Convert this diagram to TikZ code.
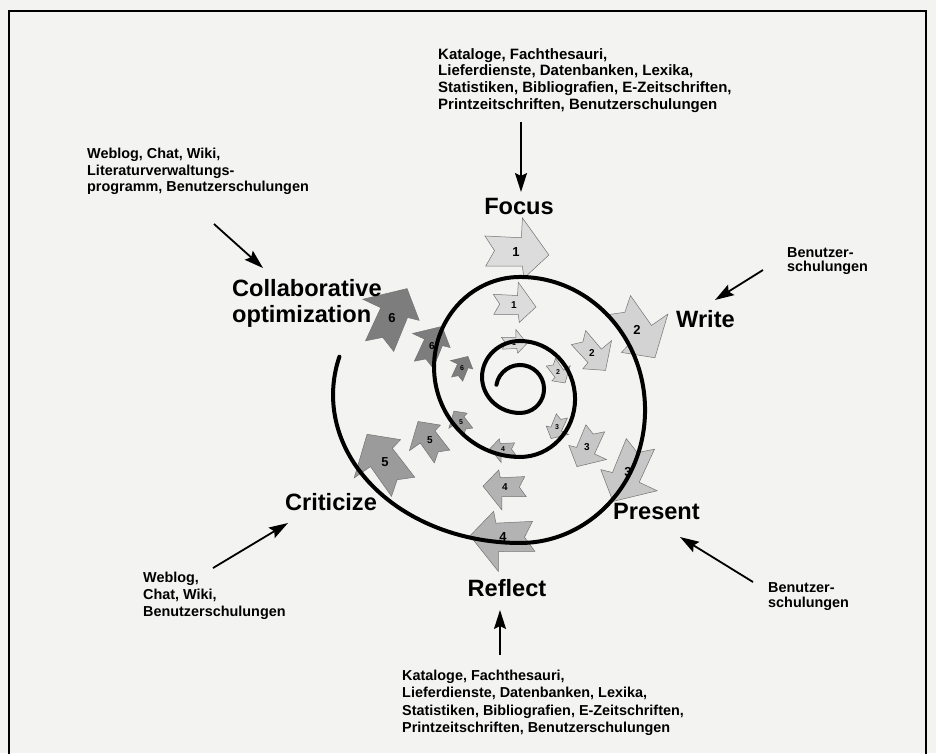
\documentclass[tikz,border=0pt]{standalone}
\usepackage{fontspec}
\setmainfont{Liberation Sans}
\usetikzlibrary{arrows.meta}
\definecolor{bgc}{HTML}{F3F3F1}
\definecolor{gA}{HTML}{DCDCDC}
\definecolor{gB}{HTML}{D3D3D3}
\definecolor{gC}{HTML}{C7C7C7}
\definecolor{gD}{HTML}{B3B3B3}
\definecolor{gE}{HTML}{9B9B9B}
\definecolor{gF}{HTML}{7D7D7D}
\tikzset{
  biglabel/.style={font=\fontsize{23.6}{26}\selectfont\bfseries, inner sep=0, align=left},
  smalltext/.style={font=\fontsize{14.4}{16.5}\selectfont\bfseries, inner sep=0, align=left, anchor=north west},
  pointer/.style={line width=1.8, -{Stealth[length=19,width=12,inset=3]}},
  spiralline/.style={line width=4, line cap=round},
  blk/.style={draw=black!55, line width=0.5},
}
\newcommand{\blkarrow}[8]{%
  \begin{scope}[shift={(#2,#3)}, rotate=-#4, scale=#5]
    \filldraw[blk, fill=#6] (-1,-0.35) -- (0.1,-0.45) -- (0.05,-1.05) -- (1,-0.05) -- (0.35,0.75) -- (0.25,0.4) -- (-0.85,0.55) -- (-0.65,0.05) -- cycle;
  \end{scope}
  \node[font=\fontsize{#8}{#8}\selectfont\bfseries, inner sep=0] (#1) at (#2,#3) {#7};
}
\begin{document}
\begin{tikzpicture}[x=1pt,y=-1pt]
\fill[bgc] (0,0) rectangle (936,753);
\useasboundingbox (0,0) rectangle (936,753);
\draw[line width=1.3] (9,760) -- (9,11) -- (926,11) -- (926,760);

% block arrows
\blkarrow{a1l}{516}{252}{8}{33}{gA}{1}{13}
\blkarrow{a1m}{514}{305}{8}{22}{gA}{1}{10}
\blkarrow{a1s}{514}{343}{5}{13}{gA}{1}{7}
\blkarrow{a2l}{637}{330}{60}{33}{gB}{2}{13}
\blkarrow{a2m}{592}{353}{55}{22}{gB}{2}{10}
\blkarrow{a2s}{558}{372}{60}{13}{gB}{2}{7}
\blkarrow{a3l}{628}{472}{120}{33}{gC}{3}{13}
\blkarrow{a3m}{587}{447}{120}{22}{gC}{3}{10}
\blkarrow{a3s}{557}{427}{120}{13}{gC}{3}{7}
\blkarrow{a4l}{503}{537}{185}{33}{gD}{4}{13}
\blkarrow{a4m}{505}{487}{185}{22}{gD}{4}{10}
\blkarrow{a4s}{503}{449}{185}{13}{gD}{4}{7}
\blkarrow{a5l}{385}{462}{240}{33}{gE}{5}{13}
\blkarrow{a5m}{430}{440}{240}{22}{gE}{5}{10}
\blkarrow{a5s}{461}{422}{240}{13}{gE}{5}{7}
\blkarrow{a6l}{392}{318}{300}{33}{gF}{6}{13}
\blkarrow{a6m}{432}{346}{300}{22}{gF}{6}{10}
\blkarrow{a6s}{462}{368}{300}{13}{gF}{6}{7}

% spiral
\draw[spiralline] (496.4,384.8)
  arc[start angle=190,end angle=450,radius=24]
  arc[start angle=90,end angle=270,x radius=38,y radius=36]
  arc[start angle=270,end angle=450,x radius=55,y radius=58]
  arc[start angle=90,end angle=270,x radius=86,y radius=90]
  arc[start angle=270,end angle=450,x radius=125,y radius=133]
  arc[start angle=90,end angle=195,x radius=187,y radius=148];

% big labels
\node[biglabel, anchor=base] (focus) at (519,214) {Focus};
\node[biglabel, anchor=base west] (write) at (676,327) {Write};
\node[biglabel, anchor=base west] (present) at (613,519) {Present};
\node[biglabel, anchor=base] (reflect) at (507,596) {Reflect};
\node[biglabel, anchor=base] (criticize) at (331,510) {Criticize};
\node[biglabel, anchor=north west] (collab) at (232,279) {Collaborative\\optimization};

% source texts
\node[smalltext, font=\fontsize{15}{16.7}\selectfont\bfseries] (topsrc) at (438,48) {Kataloge, Fachthesauri,\\Lieferdienste, Datenbanken, Lexika,\\Statistiken, Bibliografien, E-Zeitschriften,\\Printzeitschriften, Benutzerschulungen};
\node[smalltext] (tlsrc) at (87,148) {Weblog, Chat, Wiki,\\Literaturverwaltungs-\\programm, Benutzerschulungen};
\node[smalltext, font=\fontsize{14.4}{14.5}\selectfont\bfseries] (wsrc) at (787,247) {Benutzer-\\schulungen};
\node[smalltext, font=\fontsize{14.4}{15}\selectfont\bfseries] (psrc) at (768,582) {Benutzer-\\schulungen};
\node[smalltext, font=\fontsize{14.4}{16.8}\selectfont\bfseries] (csrc) at (143,572) {Weblog,\\Chat, Wiki,\\Benutzerschulungen};
\node[smalltext, font=\fontsize{14.4}{17.2}\selectfont\bfseries] (bsrc) at (402,670) {Kataloge, Fachthesauri,\\Lieferdienste, Datenbanken, Lexika,\\Statistiken, Bibliografien, E-Zeitschriften,\\Printzeitschriften, Benutzerschulungen};

% pointers
\coordinate (fs) at (521,122); \coordinate (ft) at (521,192);
\coordinate (cs) at (214,224); \coordinate (ct) at (263,268);
\coordinate (ws) at (763,270); \coordinate (wt) at (715,300);
\coordinate (ps) at (753,582); \coordinate (pt) at (680,537);
\coordinate (rs) at (500,655); \coordinate (rt) at (500,610);
\coordinate (ks) at (213,568); \coordinate (kt) at (288,523);
\draw[pointer] (fs) -- (ft);
\draw[pointer] (cs) -- (ct);
\draw[pointer] (ws) -- (wt);
\draw[pointer] (ps) -- (pt);
\draw[pointer] (rs) -- (rt);
\draw[pointer] (ks) -- (kt);
\end{tikzpicture}
\end{document}
